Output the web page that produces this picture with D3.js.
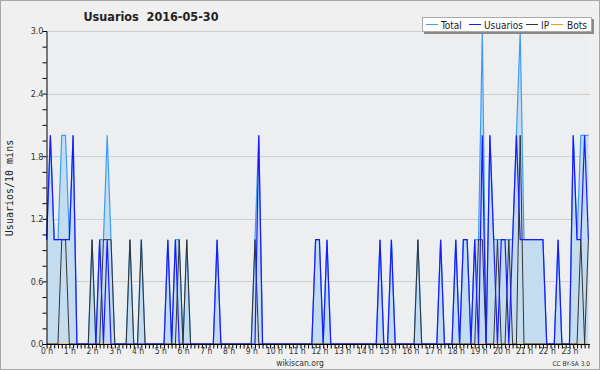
<!DOCTYPE html>
<html><head><meta charset="utf-8">
<script src="https://cdn.jsdelivr.net/npm/d3@7"></script>
<style>body{margin:0;background:#f0f0f0}svg{display:block}</style>
</head><body><svg id="c" width="600" height="370"></svg>
<script>
const title = "Usuarios  2016-05-30";
const yTitle = "Usuarios/10 mins";
const hourLabels = d3.range(24).map(h => h + " h");
const yTickValues = [0, 0.6, 1.2, 1.8, 2.4, 3.0];
const seriesNames = ["Total", "Usuarios", "IP", "Bots"];
// 144 ten-minute intervals
const total = [
1,2,1,1,2,2,1,2,0,0,0,0,1,0,1,1,2,1,0,0,0,0,1,0,0,1,0,0,0,0,0,0,
1,0,1,1,0,1,0,0,0,0,0,0,0,1,0,0,0,0,0,0,0,0,0,1,2,0,0,0,0,0,0,0,
0,0,0,0,0,0,0,1,1,0,1,0,0,0,0,0,0,0,0,0,0,0,0,0,1,0,0,1,0,0,0,0,
0,0,1,0,0,0,0,0,1,0,0,0,1,0,1,1,0,1,1,3,0,2,1,1,1,1,1,1,2,3,1,1,
1,1,1,1,0,0,0,1,0,0,0,2,1,2,2,2];
const usuarios = [
1,2,1,1,1,1,1,2,0,0,0,0,0,0,1,0,1,0,0,0,0,0,0,0,0,0,0,0,0,0,0,0,
1,0,1,0,0,0,0,0,0,0,0,0,0,1,0,0,0,0,0,0,0,0,0,0,2,0,0,0,0,0,0,0,
0,0,0,0,0,0,0,1,1,0,1,0,0,0,0,0,0,0,0,0,0,0,0,0,1,0,0,1,0,0,0,0,
0,0,0,0,0,0,0,0,1,0,0,0,1,0,1,1,0,1,0,2,0,2,1,0,1,1,0,1,2,1,1,1,
1,1,1,1,0,0,0,1,0,0,0,2,1,1,2,1];
const ip = [
0,0,0,0,1,1,0,0,0,0,0,0,1,0,0,1,1,1,0,0,0,0,1,0,0,1,0,0,0,0,0,0,
0,0,0,1,0,1,0,0,0,0,0,0,0,0,0,0,0,0,0,0,0,0,0,1,0,0,0,0,0,0,0,0,
0,0,0,0,0,0,0,0,0,0,0,0,0,0,0,0,0,0,0,0,0,0,0,0,0,0,0,0,0,0,0,0,
0,0,1,0,0,0,0,0,0,0,0,0,0,0,0,0,0,0,1,1,0,0,0,1,0,0,1,0,0,2,0,0,
0,0,0,0,0,0,0,0,0,0,0,0,0,1,0,1];
const bots = new Array(144).fill(0);

const svg = d3.select("#c");
const W = 600, H = 370;
const L = 46, R = 590, T = 31, B = 344;
const font = "DejaVu Sans Condensed, DejaVu Sans, sans-serif";

svg.append("rect").attr("x",0.5).attr("y",0.5).attr("width",W-1).attr("height",H-1)
  .attr("fill","#f0f0f0").attr("stroke","#a8a8a8");
svg.append("rect").attr("x",L).attr("y",T).attr("width",R-L).attr("height",B-T).attr("fill","#eceef0");

const x = d3.scaleLinear().domain([0,143]).range([46.6, 588.4]);
const y = d3.scaleLinear().domain([0,3]).range([B, T]);

// grid
svg.append("g").selectAll("line").data(yTickValues.filter(v=>v>0)).join("line")
  .attr("x1",L).attr("x2",R).attr("y1",d=>Math.round(y(d))+0.5).attr("y2",d=>Math.round(y(d))+0.5)
  .attr("stroke","#cfcfcf").attr("stroke-width",1);

const idx = d3.range(144);
const area = d3.area().x(i=>x(i)).y0(y(0)).y1(i=>y(total[i]));
svg.append("path").datum(idx).attr("d",area).attr("fill","#c4dcf0");
const line = arr => d3.line().x(i=>x(i)).y(i=>y(arr[i]))(idx);
svg.append("path").attr("d",line(bots)).attr("fill","none").attr("stroke","#ff9900").attr("stroke-width",1);
svg.append("path").attr("d",line(total)).attr("fill","none").attr("stroke","#3d9df5").attr("stroke-width",1.2);
svg.append("path").attr("d",line(ip)).attr("fill","none").attr("stroke","#333").attr("stroke-width",1);
svg.append("path").attr("d",line(usuarios)).attr("fill","none").attr("stroke","#1a1aff").attr("stroke-width",1.2);

// y axis
const yAxis = d3.axisLeft(y).tickValues(d3.range(0,3.0001,0.15)).tickSize(4)
  .tickFormat(d => yTickValues.some(v=>Math.abs(v-d)<1e-6) ? d3.format(".1f")(d) : "");
const gy = svg.append("g").attr("transform",`translate(${L+0.5},0)`).call(yAxis);
gy.select(".domain").attr("stroke","#000");
gy.selectAll(".tick line").attr("stroke","#000");
gy.selectAll("text").attr("font-family",font).attr("font-size",9).attr("fill","#333").attr("x",-3);

// x axis
const xAxis = d3.axisBottom(x).tickValues(idx).tickSize(4)
  .tickFormat(i => i % 6 === 0 ? hourLabels[i/6] : "");
const gx = svg.append("g").attr("transform",`translate(0,${B+0.5})`).call(xAxis);
gx.select(".domain").attr("d",`M${L},0H${R}`).attr("stroke","#000");
gx.selectAll(".tick line").attr("stroke","#000");
gx.selectAll("text").attr("font-family",font).attr("font-size",8.5).attr("fill","#333").attr("y",3);

// titles
svg.append("text").attr("x",151).attr("y",21).attr("text-anchor","middle")
  .attr("font-family",font).attr("font-weight","bold").attr("font-size",12.5).attr("fill","#222")
  .attr("xml:space","preserve").style("white-space","pre").text(title);
svg.append("text").attr("transform","translate(13,188) rotate(-90)").attr("text-anchor","middle")
  .attr("font-family","DejaVu Sans Mono, monospace").attr("font-size",10).attr("fill","#222").text(yTitle);
svg.append("text").attr("x",300).attr("y",366).attr("text-anchor","middle")
  .attr("font-family",font).attr("font-size",8.5).attr("fill","#333").text("wikiscan.org");
svg.append("text").attr("x",590).attr("y",366).attr("text-anchor","end")
  .attr("font-family",font).attr("font-size",6.5).attr("fill","#333").text("CC BY-SA 3.0");

// legend
const colors = ["#3d9df5","#1a1aff","#333","#ff9900"];
const legLineX = [426, 469, 526, 551];
const legTextX = [441, 484, 541, 567];
svg.append("rect").attr("x",424).attr("y",19).attr("width",170).attr("height",15).attr("fill","#8a8a8a");
svg.append("rect").attr("x",422.5).attr("y",17.5).attr("width",169).attr("height",14).attr("fill","#fff").attr("stroke","#aaa");
const lg = svg.append("g");
seriesNames.forEach((n,k)=>{
  lg.append("line").attr("x1",legLineX[k]).attr("x2",legLineX[k]+12).attr("y1",24.5).attr("y2",24.5).attr("stroke",colors[k]).attr("stroke-width",1);
  lg.append("text").attr("x",legTextX[k]).attr("y",28.5).attr("font-family",font).attr("font-size",10).attr("fill","#222").text(n);
});
</script></body></html>
